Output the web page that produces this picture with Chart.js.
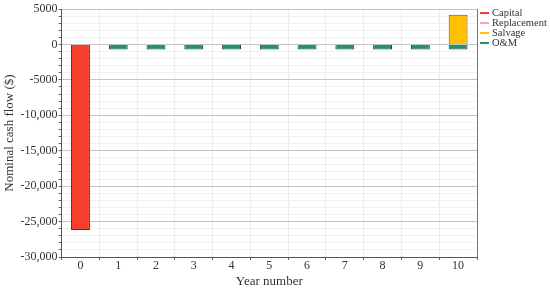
<!DOCTYPE html>
<html>
<head>
<meta charset="utf-8">
<script src="https://cdn.jsdelivr.net/npm/chart.js@4/dist/chart.umd.min.js"></script>
<style>
    html, body { margin: 0; padding: 0; background: #fff; }
    #wrap { width: 550px; height: 289px; position: relative; }
</style>
</head>
<body>
<div id="wrap"><canvas id="cashflow"></canvas></div>
<script>
const years = ["0", "1", "2", "3", "4", "5", "6", "7", "8", "9", "10"];
const capital = [-26200, null, null, null, null, null, null, null, null, null, null];
const replacement = [null, null, null, null, null, null, null, null, null, null, null];
const salvage = [null, null, null, null, null, null, null, null, null, null, 4200];
const om = [null, -700, -700, -700, -700, -700, -700, -700, -700, -700, -700];
const seriesNames = ["Capital", "Replacement", "Salvage", "O&M"];

const fills = ["rgb(246,62,44)", "rgb(240,168,180)", "rgb(255,192,0)", "rgb(28,150,106)"];
const borders = ["rgb(110,30,22)", "rgb(120,80,90)", "rgb(110,85,10)", "rgb(20,70,50)"];
const serif = "'Liberation Serif', 'DejaVu Serif', serif";

// small legend with line markers, top right
const sideLegend = {
    id: "sideLegend",
    afterDraw(chart) {
        const ctx = chart.ctx;
        const x0 = chart.chartArea.right + 3;
        ctx.save();
        ctx.font = "10.5px " + serif;
        ctx.textBaseline = "middle";
        seriesNames.forEach((name, i) => {
            const y = 13 + i * 10;
            ctx.strokeStyle = fills[i];
            ctx.lineWidth = 2;
            ctx.beginPath();
            ctx.moveTo(x0, y);
            ctx.lineTo(x0 + 9, y);
            ctx.stroke();
            ctx.fillStyle = "#333";
            ctx.fillText(name, x0 + 12, y);
        });
        ctx.restore();
    },
};

// right edge of plot box
const frame = {
    id: "frame",
    afterDatasetsDraw(chart) {
        const {ctx, chartArea} = chart;
        ctx.save();
        ctx.strokeStyle = "#777";
        ctx.lineWidth = 1;
        ctx.beginPath();
        ctx.moveTo(chartArea.right + 0.5, chartArea.top);
        ctx.lineTo(chartArea.right + 0.5, chartArea.bottom);
        ctx.stroke();
        ctx.restore();
    },
};

const fmt = (v) => {
    if (Math.abs(v) >= 10000) {
        return (v < 0 ? "-" : "") + Math.abs(v).toLocaleString("en-US");
    }
    return String(v);
};

const ds = [capital, replacement, salvage, om].map((arr, i) => ({
    label: seriesNames[i],
    data: arr,
    backgroundColor: fills[i],
    borderColor: borders[i],
    borderWidth: 1,
    barPercentage: 0.5,
    categoryPercentage: 1,
}));

const ctx = document.getElementById("cashflow").getContext("2d");
new Chart(ctx, {
    type: "bar",
    data: { labels: years, datasets: ds },
    options: {
        responsive: true,
        maintainAspectRatio: false,
        animation: false,
        layout: { padding: { top: 9, right: 73, left: 2, bottom: 0 } },
        plugins: {
            legend: { display: false },
            tooltip: { enabled: false },
        },
        scales: {
            x: {
                stacked: true,
                offset: true,
                afterFit: (scale) => { scale.height = 32; },
                grid: {
                    offset: true,
                    color: "#ececec",
                    tickColor: "#666",
                    tickLength: 3,
                },
                border: { color: "#555" },
                ticks: { font: { family: serif, size: 12 }, color: "#333", padding: -1 },
                title: {
                    display: true,
                    text: "Year number",
                    font: { family: serif, size: 13 },
                    color: "#333",
                    padding: { top: 0, bottom: 0 },
                },
            },
            y: {
                stacked: true,
                min: -30000,
                max: 5000,
                ticks: {
                    stepSize: 1000,
                    autoSkip: false,
                    font: { family: serif, size: 12 },
                    color: "#333",
                    padding: 1,
                    callback: (v) => (v % 5000 === 0 ? fmt(v) : ""),
                },
                grid: {
                    color: (c) => (c.tick && c.tick.value % 5000 === 0 ? "#c4c4c4" : "#f0f0f0"),
                    tickColor: "#666",
                    tickLength: 3,
                },
                border: { color: "#555" },
                title: {
                    display: true,
                    text: "Nominal cash flow ($)",
                    font: { family: serif, size: 13 },
                    color: "#333",
                    padding: { top: 0, bottom: 2 },
                },
            },
        },
    },
    plugins: [sideLegend, frame],
});
</script>
</body>
</html>
